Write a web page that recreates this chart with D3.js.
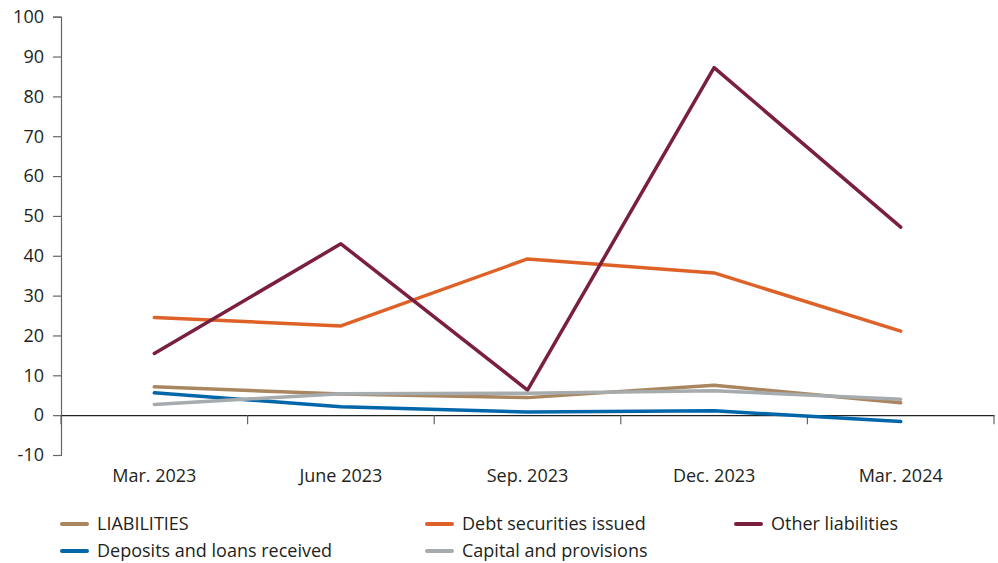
<!DOCTYPE html>
<html>
<head>
<meta charset="utf-8">
<script src="https://cdn.jsdelivr.net/npm/d3@7"></script>
<style>
  body { margin: 0; background: #fff; }
  svg { display: block; font-family: "Open Sans", sans-serif; }
</style>
</head>
<body>
<svg id="chart" width="998" height="563"></svg>
<script>
// Quarterly periods
const categories = ["Mar. 2023", "June 2023", "Sep. 2023", "Dec. 2023", "Mar. 2024"];

// Series values (percent)
const liabilities = [7.1, 5.3, 4.4, 7.5, 3.1];
const debtSecurities = [24.5, 22.4, 39.2, 35.7, 21.1];
const otherLiabilities = [15.5, 43.0, 6.3, 87.2, 47.2];
const depositsLoans = [5.6, 2.1, 0.8, 1.1, -1.6];
const capitalProvisions = [2.7, 5.4, 5.5, 6.1, 4.0];

const yTicks = [-10, 0, 10, 20, 30, 40, 50, 60, 70, 80, 90, 100];

const series = [
  { name: "LIABILITIES", values: liabilities, color: "#a9865f" },
  { name: "Debt securities issued", values: debtSecurities, color: "#de6228" },
  { name: "Other liabilities", values: otherLiabilities, color: "#7a1f3f" },
  { name: "Deposits and loans received", values: depositsLoans, color: "#0066aa" },
  { name: "Capital and provisions", values: capitalProvisions, color: "#a6abae" }
];
// draw order (later on top)
const drawOrder = ["Debt securities issued", "Other liabilities", "Deposits and loans received", "LIABILITIES", "Capital and provisions"];

const fontSize = 18;
const textColor = "#231f20";

const svg = d3.select("#chart");
const plotLeft = 61, plotRight = 994, plotTop = 16.7, plotBottom = 455;

const x = d3.scaleBand().domain(categories).range([plotLeft, plotRight]);
const y = d3.scaleLinear().domain([-10, 100]).range([plotBottom, plotTop]);

// Y axis (plain hyphen for negatives)
const yAxis = svg.append("g")
  .attr("transform", `translate(${plotLeft},0)`)
  .call(d3.axisLeft(y).tickValues(yTicks).tickFormat(d => String(d)).tickSize(8).tickPadding(9));
yAxis.select(".domain").attr("stroke", "#666").attr("stroke-width", 1.2);
yAxis.selectAll(".tick line").attr("stroke", "#666").attr("stroke-width", 1.2);
yAxis.selectAll(".tick text")
  .attr("font-size", fontSize).attr("fill", textColor)
  .attr("font-family", "'Open Sans', sans-serif");

// X axis along zero
const xAxis = svg.append("g")
  .attr("transform", `translate(0,${y(0)})`)
  .call(d3.axisBottom(x).tickSize(0).tickFormat(""));
xAxis.select(".domain").attr("stroke", "#222").attr("stroke-width", 1.3);
// boundary ticks between categories
const bounds = categories.map(c => x(c)).concat([x(categories[categories.length - 1]) + x.bandwidth()]);
svg.append("g").selectAll("line").data(bounds).join("line")
  .attr("x1", d => d).attr("x2", d => d)
  .attr("y1", y(0)).attr("y2", y(0) + 9)
  .attr("stroke", "#666").attr("stroke-width", 1.2);

// Category labels
svg.append("g").selectAll("text").data(categories).join("text")
  .attr("x", d => x(d) + x.bandwidth() / 2)
  .attr("y", 482)
  .attr("text-anchor", "middle")
  .attr("font-size", fontSize).attr("fill", textColor)
  .text(d => d);

// Lines
const line = d3.line()
  .x((d, i) => x(categories[i]) + x.bandwidth() / 2)
  .y(d => y(d));

svg.append("g").selectAll("path")
  .data(drawOrder.map(n => series.find(s => s.name === n)))
  .join("path")
  .attr("d", d => line(d.values))
  .attr("fill", "none")
  .attr("stroke", d => d.color)
  .attr("stroke-width", 3.5)
  .attr("stroke-linejoin", "round")
  .attr("stroke-linecap", "round");

// Legend
const legendPos = [
  { x: 62, y: 524 }, { x: 427, y: 524 }, { x: 736, y: 524 },
  { x: 62, y: 551 }, { x: 427, y: 551 }
];
const legend = svg.append("g").selectAll("g").data(series).join("g")
  .attr("transform", (d, i) => `translate(${legendPos[i].x},${legendPos[i].y})`);
legend.append("line")
  .attr("x1", 0).attr("x2", 25).attr("y1", 0).attr("y2", 0)
  .attr("stroke", d => d.color).attr("stroke-width", 4).attr("stroke-linecap", "round");
legend.append("text")
  .attr("x", 35).attr("y", 0).attr("dy", "0.35em")
  .attr("font-size", fontSize).attr("fill", textColor)
  .text(d => d.name);
</script>
</body>
</html>
